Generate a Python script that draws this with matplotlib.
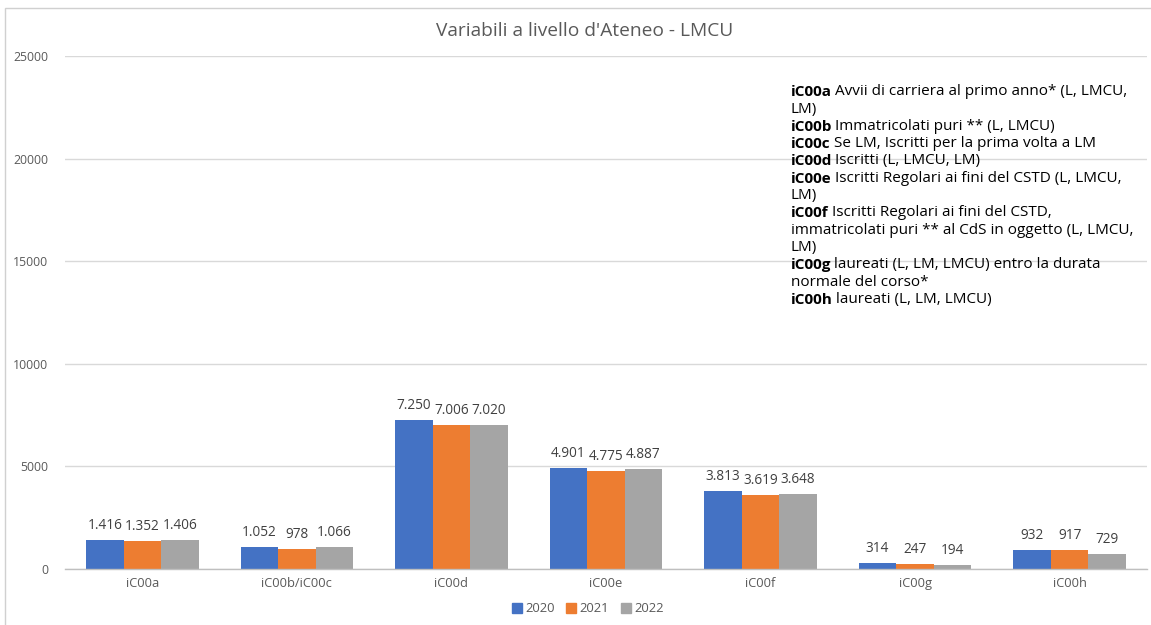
import matplotlib
matplotlib.use("Agg")
import matplotlib.pyplot as plt
import numpy as np
from matplotlib.patches import Rectangle
from matplotlib.lines import Line2D

plt.rcParams['font.family'] = ['Open Sans', 'DejaVu Sans']

categories = ["iC00a", "iC00b/iC00c", "iC00d", "iC00e", "iC00f", "iC00g", "iC00h"]
years = ["2020", "2021", "2022"]
v2020 = [1416, 1052, 7250, 4901, 3813, 314, 932]
v2021 = [1352, 978, 7006, 4775, 3619, 247, 917]
v2022 = [1406, 1066, 7020, 4887, 3648, 194, 729]
colors = ["#4472C4", "#ED7D31", "#A5A5A5"]
yticks = [0, 5000, 10000, 15000, 20000, 25000]
title = "Variabili a livello d'Ateneo - LMCU"
notes = [
    ("iC00a", "Avvii di carriera al primo anno* (L, LMCU,"),
    ("", "LM)"),
    ("iC00b", "Immatricolati puri ** (L, LMCU)"),
    ("iC00c", "Se LM, Iscritti per la prima volta a LM"),
    ("iC00d", "Iscritti (L, LMCU, LM)"),
    ("iC00e", "Iscritti Regolari ai fini del CSTD (L, LMCU,"),
    ("", "LM)"),
    ("iC00f", "Iscritti Regolari ai fini del CSTD,"),
    ("", "immatricolati puri ** al CdS in oggetto (L, LMCU,"),
    ("", "LM)"),
    ("iC00g", "laureati (L, LM, LMCU) entro la durata"),
    ("", "normale del corso*"),
    ("iC00h", "laureati (L, LM, LMCU)"),
]

W, H = 1151, 625
fig = plt.figure(figsize=(W / 100, H / 100), dpi=100)
fig.patch.set_facecolor("white")

# chart frame (only left/top visible in reference)
fig.patches.append(Rectangle((5 / W, -0.1), 1.2, 1 - 8 / H + 0.1, transform=fig.transFigure,
                             fill=False, edgecolor="#d0d0d0", linewidth=1.0))

ax = fig.add_axes([65 / W, 1 - 569 / H, (1147 - 65) / W, (569 - 56) / H])
ax.set_xlim(-0.5, len(categories) - 0.5)
ax.set_ylim(0, 25000)

x = np.arange(len(categories))
bw = 0.243
series = [v2020, v2021, v2022]
for i, (vals, c, yr) in enumerate(zip(series, colors, years)):
    xs = x + (i - 1) * bw
    ax.bar(xs, vals, width=bw, color=c, label=yr, zorder=3)
    for xi, v in zip(xs, vals):
        s = f"{v:,}".replace(",", ".")
        ax.annotate(s, (xi, v), xytext=(0, 5), textcoords="offset points",
                    ha="center", va="bottom", fontsize=9.8, color="#404040")

ax.set_yticks(yticks)
ax.set_yticklabels([str(t) for t in yticks])
ax.set_xticks(x)
ax.set_xticklabels(categories)
ax.tick_params(axis="y", length=0, pad=12, labelsize=8.8, labelcolor="#595959")
ax.tick_params(axis="x", length=0, pad=6, labelsize=9.3, labelcolor="#595959")
ax.yaxis.grid(True, color="#d9d9d9", linewidth=1.0, zorder=0)
ax.set_axisbelow(True)
for sp in ["top", "right", "left"]:
    ax.spines[sp].set_visible(False)
ax.spines["bottom"].set_color("#bfbfbf")
ax.spines["bottom"].set_linewidth(1.0)
ax.spines["bottom"].set_zorder(4)

fig.text(585 / W, 1 - 31 / H, title, ha="center", va="center", fontsize=13.8, color="#595959")

# notes text block
y0 = 92
dy = 17.3
fs = 11.0
for k, (b, t) in enumerate(notes):
    yy = 1 - (y0 + k * dy) / H
    if b:
        bt = fig.text(791 / W, yy, b, ha="left", va="center", fontsize=fs,
                      fontweight="bold", color="black")
        ann = matplotlib.text.Annotation(
            t, xy=(1, 0), xycoords=bt, xytext=(3, 0), textcoords="offset pixels",
            ha="left", va="bottom", fontsize=fs, color="black")
        ann.set_figure(fig)
        fig.texts.append(ann)
    else:
        fig.text(791 / W, yy, t, ha="left", va="center", fontsize=fs, color="black")

handles = [Line2D([], [], marker="s", linestyle="none", markersize=7,
                  markerfacecolor=c, markeredgecolor=c) for c in colors]
fig.legend(handles, years, loc="center", bbox_to_anchor=(588 / W, 1 - 609 / H),
           ncol=3, frameon=False, fontsize=9.4, labelcolor="#595959",
           handletextpad=0.3, columnspacing=0.9, handlelength=0.7)

fig.savefig("out.png", dpi=100)
